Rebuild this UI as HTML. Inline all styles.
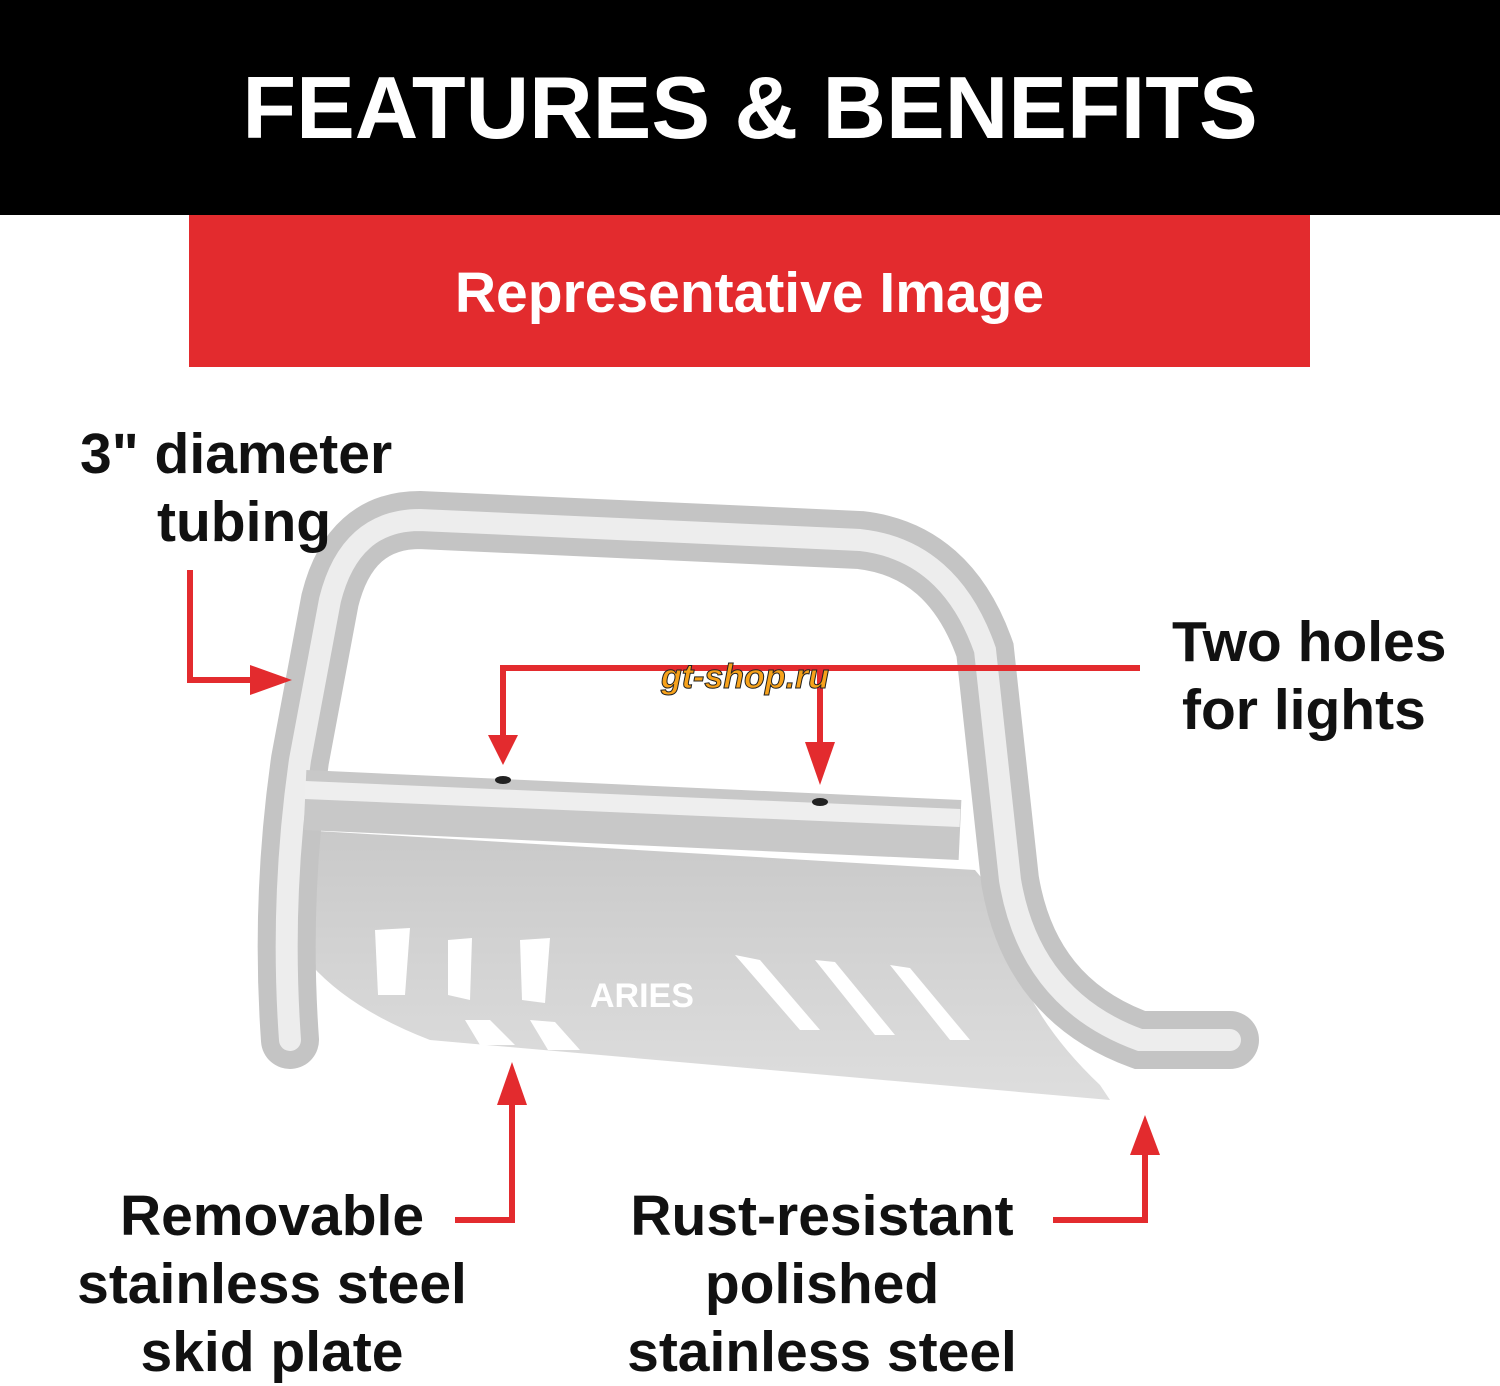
<!DOCTYPE html>
<html><head><meta charset="utf-8"><style>
html,body{margin:0;padding:0;background:#fff}
body{width:1500px;height:1350px;position:relative;overflow:hidden;font-family:"Liberation Sans",Arial,sans-serif;font-weight:bold}
.hdr{position:absolute;left:0;top:0;width:1500px;height:215px;background:#000;color:#fff;font-size:88px;text-align:center;line-height:215px;letter-spacing:0px}
.red{position:absolute;left:189px;top:215px;width:1121px;height:152px;background:#e32b2e;color:#fff;font-size:57px;text-align:center;line-height:156px}
.t{position:absolute;color:#111;font-size:57px;line-height:68px;white-space:nowrap}
</style></head><body>
<div class="hdr">FEATURES &amp; BENEFITS</div>
<div class="red">Representative Image</div>
<svg width="1500" height="1350" style="position:absolute;left:0;top:0">
<defs>
<linearGradient id="pg" x1="0" y1="0" x2="0" y2="1"><stop offset="0" stop-color="#c9c9c9"/><stop offset="1" stop-color="#dedede"/></linearGradient>
</defs>
<path d="M300,830 L975,870 L1000,900 Q1010,1000 1100,1085 L1110,1100 L430,1040 Q300,990 275,900 Z" fill="url(#pg)"/>
<path d="M290,1040 Q280,900 300,760 L330,600 Q350,520 420,520 L860,540 Q950,550 985,650 L1010,880 Q1030,1000 1140,1040 L1230,1040" fill="none" stroke="#c4c4c4" stroke-width="58" stroke-linecap="round"/>
<path d="M290,1040 Q280,900 300,760 L330,600 Q350,520 420,520 L860,540 Q950,550 985,650 L1010,880 Q1030,1000 1140,1040 L1230,1040" fill="none" stroke="#ededed" stroke-width="22" stroke-linecap="round"/>
<path d="M305,800 L960,830" stroke="#c8c8c8" stroke-width="60"/>
<path d="M305,790 L960,818" stroke="#eeeeee" stroke-width="18"/>
<g fill="#fff">
<polygon points="375,930 410,928 405,995 378,995"/>
<polygon points="448,940 472,938 470,1000 448,995"/>
<polygon points="520,940 550,938 545,1003 522,1000"/>
<polygon points="735,955 760,960 820,1030 800,1030"/>
<polygon points="815,960 835,962 895,1035 875,1035"/>
<polygon points="890,965 910,968 970,1040 950,1040"/>
<polygon points="465,1020 490,1020 515,1045 480,1045"/>
<polygon points="530,1020 555,1022 580,1050 548,1050"/>
</g>
<text x="590" y="1007" font-family="Liberation Sans" font-weight="bold" font-size="34" fill="#fff">ARIES</text>
<ellipse cx="503" cy="780" rx="8" ry="4" fill="#222"/>
<ellipse cx="820" cy="802" rx="8" ry="4" fill="#222"/>
<g stroke="#e32b2e" stroke-width="6" fill="none">
<polyline points="190,570 190,680 255,680"/>
<polyline points="1140,668 503,668 503,740"/>
<polyline points="820,668 820,745"/>
<polyline points="455,1220 512,1220 512,1100"/>
<polyline points="1053,1220 1145,1220 1145,1150"/>
</g>
<g fill="#e32b2e">
<polygon points="250,665 292,680 250,695"/>
<polygon points="488,735 518,735 503,765"/>
<polygon points="805,742 835,742 820,785"/>
<polygon points="497,1105 527,1105 512,1062"/>
<polygon points="1130,1155 1160,1155 1145,1115"/>
</g>
<text x="745" y="688" font-family="Liberation Sans" font-weight="bold" font-style="italic" font-size="34" fill="#f7a21b" stroke="#222" stroke-width="1" text-anchor="middle">gt-shop.ru</text>
</svg>
<div class="t" style="left:80px;top:420px">3" diameter</div>
<div class="t" style="left:157px;top:488px">tubing</div>
<div class="t" style="left:1172px;top:608px">Two holes</div>
<div class="t" style="left:1182px;top:676px">for lights</div>
<div class="t" style="left:62px;top:1182px;width:420px;text-align:center">Removable<br>stainless steel<br>skid plate</div>
<div class="t" style="left:612px;top:1182px;width:420px;text-align:center">Rust-resistant<br>polished<br>stainless steel</div>
</body></html>
